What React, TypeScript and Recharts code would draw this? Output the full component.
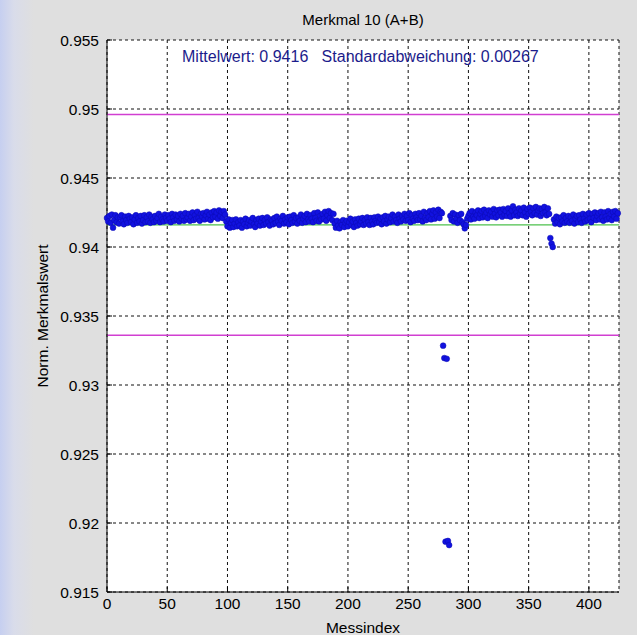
import React from 'react';
import { ScatterChart, Scatter, XAxis, YAxis, CartesianGrid, ReferenceLine } from 'recharts';

const segA = [
  0.94210, 0.94185, 0.94225, 0.94175, 0.94235, 0.94140, 0.94195, 0.94230, 0.94180, 0.94215,
  0.94170, 0.94215, 0.94230, 0.94185, 0.94165, 0.94220, 0.94195, 0.94175, 0.94225, 0.94205,
  0.94180, 0.94215, 0.94165, 0.94200, 0.94230, 0.94175, 0.94210, 0.94185, 0.94225, 0.94170,
  0.94195, 0.94230, 0.94180, 0.94215, 0.94185, 0.94235, 0.94175, 0.94220, 0.94200, 0.94180,
  0.94225, 0.94190, 0.94210, 0.94240, 0.94180, 0.94220, 0.94200, 0.94185, 0.94235, 0.94210,
  0.94190, 0.94230, 0.94205, 0.94180, 0.94240, 0.94215, 0.94190, 0.94235, 0.94200, 0.94225,
  0.94185, 0.94240, 0.94205, 0.94225, 0.94190, 0.94245, 0.94200, 0.94215, 0.94240, 0.94190,
  0.94220, 0.94250, 0.94195, 0.94230, 0.94205, 0.94255, 0.94210, 0.94190, 0.94240, 0.94220,
  0.94245, 0.94200, 0.94230, 0.94255, 0.94205, 0.94235, 0.94195, 0.94250, 0.94215, 0.94260,
  0.94220, 0.94250, 0.94205, 0.94265, 0.94225, 0.94255, 0.94210, 0.94260, 0.94235,
];
const segB = [
  0.94185, 0.94150, 0.94200, 0.94140, 0.94175, 0.94195, 0.94145, 0.94170, 0.94200, 0.94150,
  0.94180, 0.94155, 0.94195, 0.94140, 0.94185, 0.94165, 0.94205, 0.94150, 0.94175, 0.94195,
  0.94155, 0.94185, 0.94210, 0.94165, 0.94145, 0.94195, 0.94170, 0.94205, 0.94155, 0.94185,
  0.94210, 0.94160, 0.94195, 0.94170, 0.94215, 0.94180, 0.94155, 0.94200, 0.94190, 0.94165,
  0.94210, 0.94175, 0.94220, 0.94185, 0.94160, 0.94205, 0.94190, 0.94225, 0.94170, 0.94200,
  0.94180, 0.94215, 0.94165, 0.94220, 0.94195, 0.94175, 0.94230, 0.94185, 0.94210, 0.94170,
  0.94215, 0.94190, 0.94235, 0.94175, 0.94205, 0.94225, 0.94180, 0.94240, 0.94200, 0.94185,
  0.94230, 0.94205, 0.94180, 0.94245, 0.94210, 0.94190, 0.94250, 0.94185, 0.94225, 0.94200,
  0.94240, 0.94205, 0.94255, 0.94190, 0.94230, 0.94260, 0.94210, 0.94245, 0.94195, 0.94240,
];
const segC = [
  0.94170, 0.94140, 0.94190, 0.94155, 0.94135, 0.94180, 0.94160, 0.94195, 0.94145, 0.94175,
  0.94190, 0.94150, 0.94180, 0.94205, 0.94160, 0.94185, 0.94145, 0.94200, 0.94175, 0.94155,
  0.94205, 0.94165, 0.94185, 0.94210, 0.94160, 0.94195, 0.94170, 0.94215, 0.94180, 0.94160,
  0.94210, 0.94185, 0.94165, 0.94215, 0.94190, 0.94175, 0.94220, 0.94180, 0.94205, 0.94165,
  0.94215, 0.94185, 0.94225, 0.94170, 0.94200, 0.94220, 0.94180, 0.94210, 0.94235, 0.94185,
  0.94220, 0.94195, 0.94175, 0.94235, 0.94205, 0.94185, 0.94225, 0.94200, 0.94240, 0.94190,
  0.94225, 0.94195, 0.94245, 0.94180, 0.94230, 0.94205, 0.94190, 0.94240, 0.94215, 0.94195,
  0.94245, 0.94200, 0.94225, 0.94185, 0.94255, 0.94210, 0.94195, 0.94245, 0.94215, 0.94260,
  0.94200, 0.94240, 0.94265, 0.94205, 0.94250, 0.94220, 0.94270, 0.94210, 0.94255, 0.94245,
];
const ausreisser1 = [0.93285, 0.93195, 0.91865, 0.93190, 0.91870, 0.91840];
const segD = [
  0.94225, 0.94195, 0.94245, 0.94185, 0.94235, 0.94205, 0.94175, 0.94230, 0.94195, 0.94240,
  0.94180, 0.94165, 0.94135, 0.94160, 0.94205,
];
const segE = [
  0.94225, 0.94245, 0.94200, 0.94260, 0.94220, 0.94205, 0.94250, 0.94230, 0.94265, 0.94210,
  0.94240, 0.94260, 0.94215, 0.94270, 0.94225, 0.94250, 0.94210, 0.94265, 0.94235, 0.94255,
  0.94220, 0.94275, 0.94240, 0.94215, 0.94265, 0.94230, 0.94270, 0.94250, 0.94220, 0.94275,
  0.94235, 0.94260, 0.94225, 0.94280, 0.94245, 0.94220, 0.94265, 0.94295, 0.94230, 0.94270,
  0.94250, 0.94225, 0.94280, 0.94240, 0.94265, 0.94230, 0.94285, 0.94250, 0.94220, 0.94275,
  0.94240, 0.94285, 0.94255, 0.94230, 0.94280, 0.94245, 0.94290, 0.94235, 0.94265, 0.94280,
  0.94225, 0.94275, 0.94245, 0.94290, 0.94250, 0.94230, 0.94280, 0.94240,
];
const ausreisser2 = [0.94065, 0.94025, 0.94000];
const segF = [
  0.94200, 0.94170, 0.94220, 0.94180, 0.94210, 0.94165, 0.94215, 0.94185, 0.94230, 0.94175,
  0.94210, 0.94185, 0.94225, 0.94175, 0.94215, 0.94190, 0.94235, 0.94170, 0.94205, 0.94225,
  0.94180, 0.94230, 0.94200, 0.94175, 0.94240, 0.94205, 0.94185, 0.94235, 0.94195, 0.94245,
  0.94205, 0.94180, 0.94240, 0.94210, 0.94250, 0.94195, 0.94225, 0.94245, 0.94200, 0.94255,
  0.94215, 0.94190, 0.94250, 0.94220, 0.94200, 0.94260, 0.94210, 0.94240, 0.94195, 0.94255,
  0.94220, 0.94260, 0.94205, 0.94245,
];

const mittelwert = 0.9416;
const obereGrenze = 0.9496;
const untereGrenze = 0.9336;

const xTicks = [0, 50, 100, 150, 200, 250, 300, 350, 400];
const yTicks = [0.915, 0.92, 0.925, 0.93, 0.935, 0.94, 0.945, 0.95, 0.955];

const werte = [...segA, ...segB, ...segC, ...ausreisser1, ...segD, ...segE, ...ausreisser2, ...segF];
const data = werte.map((y, i) => ({ x: i, y }));

const FONT = '"Liberation Sans", Arial, sans-serif';
const tickStyle = { fontFamily: FONT, fontSize: 15.5, fill: '#000' };

const Dot = (props: any) => (
  <circle cx={props.cx} cy={props.cy} r={2.9} fill="#1212e0" stroke="#0a0ab0" strokeWidth={0.5} />
);

const App: React.FC = () => {
  return (
    <div
      style={{
        position: 'absolute',
        left: 0,
        top: 0,
        width: 637,
        height: 635,
        background: 'linear-gradient(to right, #c6cff0 0px, #d9dcea 14px, #dfdfdf 34px)',
      }}
    >
      <ScatterChart width={637} height={635} margin={{ top: 40, right: 18, bottom: 0, left: 0 }}>
        <CartesianGrid stroke="#111" strokeDasharray="3 3" fill="#fff" />
        <XAxis
          type="number"
          dataKey="x"
          domain={[0, 425]}
          ticks={xTicks}
          height={43}
          tickSize={-5}
          tickMargin={11}
          stroke="#000"
          tick={tickStyle}
          interval={0}
        />
        <XAxis
          xAxisId="top"
          orientation="top"
          type="number"
          domain={[0, 425]}
          ticks={xTicks}
          height={0}
          tickSize={-5}
          tick={false}
          stroke="#000"
        />
        <YAxis
          type="number"
          dataKey="y"
          domain={[0.915, 0.955]}
          ticks={yTicks}
          width={107}
          tickSize={-5}
          tickMargin={13}
          stroke="#000"
          tick={tickStyle}
          interval={0}
          tickFormatter={(v: number) => String(Number(v.toFixed(3)))}
        />
        <YAxis
          yAxisId="right"
          orientation="right"
          type="number"
          domain={[0.915, 0.955]}
          ticks={yTicks}
          width={0}
          tickSize={-5}
          tick={false}
          stroke="#000"
        />
        <ReferenceLine y={obereGrenze} stroke="#d13fd1" strokeWidth={1.6} />
        <ReferenceLine y={untereGrenze} stroke="#d13fd1" strokeWidth={1.6} />
        <ReferenceLine y={mittelwert} stroke="#4cc04c" strokeWidth={1.4} />
        <Scatter data={data} shape={Dot} isAnimationActive={false} />
      </ScatterChart>
      <svg
        width={637}
        height={635}
        style={{ position: 'absolute', left: 0, top: 0, pointerEvents: 'none' }}
        fontFamily={FONT}
      >
        <text x={363} y={25} textAnchor="middle" fontSize={15} fill="#000">
          Merkmal 10 (A+B)
        </text>
        <text x={182} y={62} fontSize={16} fill="#1c1c8c" xmlSpace="preserve">
          {'Mittelwert: 0.9416   Standardabweichung: 0.00267'}
        </text>
        <text x={363} y={633} textAnchor="middle" fontSize={15.5} fill="#000">
          Messindex
        </text>
        <text
          x={48}
          y={316}
          textAnchor="middle"
          fontSize={15.5}
          fill="#000"
          transform="rotate(-90 48 316)"
        >
          Norm. Merkmalswert
        </text>
      </svg>
    </div>
  );
};

export default App;
